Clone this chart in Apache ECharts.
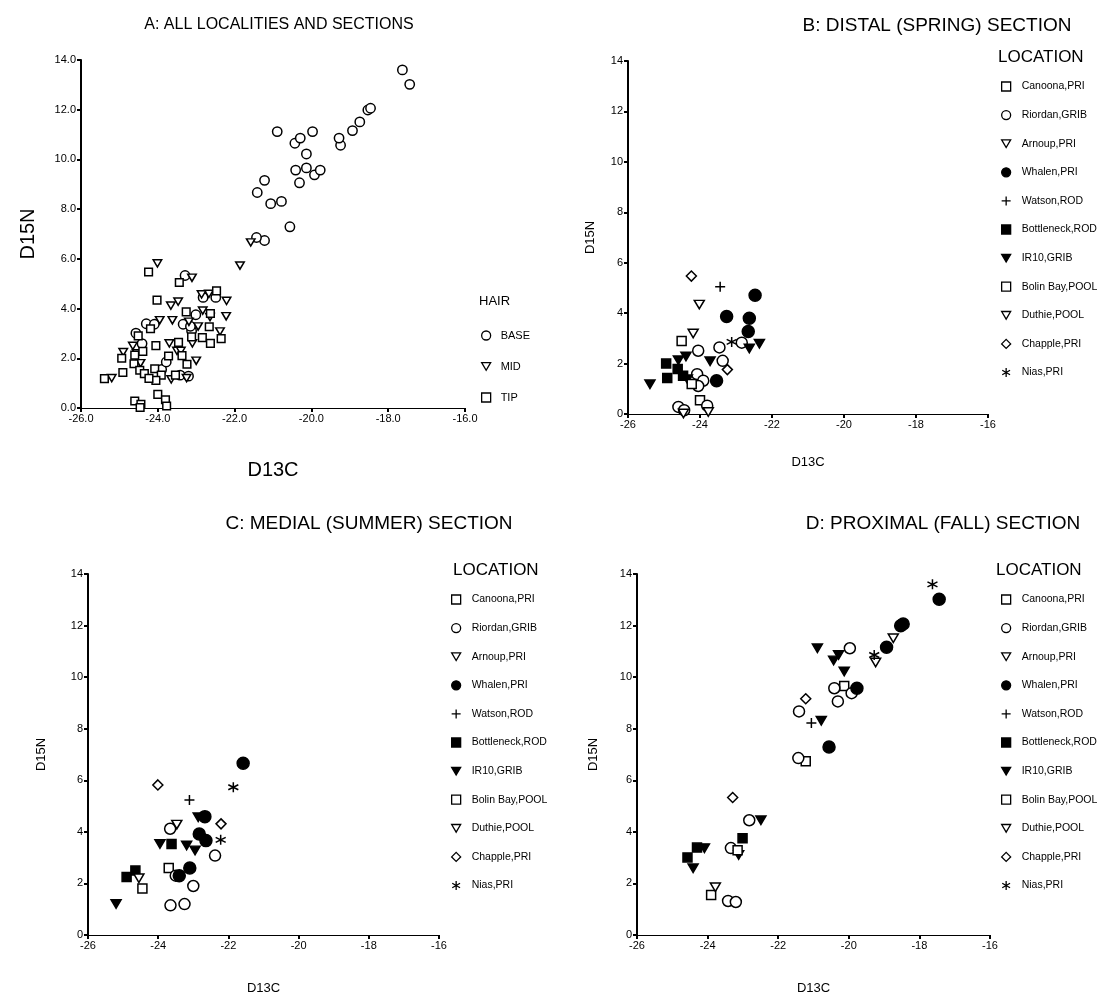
<!DOCTYPE html>
<html><head><meta charset="utf-8">
<script src="https://cdn.jsdelivr.net/npm/echarts/dist/echarts.min.js"></script>
<style>html,body{margin:0;padding:0;background:#fff}#c{width:1112px;height:996px}</style>
</head><body><div id="c"></div>
<script>
const locations = ['Canoona,PRI','Riordan,GRIB','Arnoup,PRI','Whalen,PRI','Watson,ROD','Bottleneck,ROD','IR10,GRIB','Bolin Bay,POOL','Duthie,POOL','Chapple,PRI','Nias,PRI'];
const locationSymbols = ['square','circle','tri','dot','plus','fsquare','ftri','square','tri','diamond','star'];
const hairGroups = ['BASE','MID','TIP'];
const hairSymbols = ['circle','tri','square'];
const panelTitles = ['A: ALL LOCALITIES AND SECTIONS','B: DISTAL (SPRING) SECTION','C: MEDIAL (SUMMER) SECTION','D: PROXIMAL (FALL) SECTION'];

// [D13C, D15N] per location (order of `locations`)
const distal = [
  [[-24.51,2.90],[-24.00,0.55]],
  [[-24.05,2.51],[-23.46,2.64],[-22.84,2.83],[-23.37,2.11],[-24.08,1.58],[-23.91,1.32],[-24.05,1.11],[-23.80,0.33],[-24.60,0.28],[-24.44,0.15]],
  [[-24.02,4.34],[-24.19,3.19]],
  [[-22.47,4.71],[-23.26,3.87],[-22.63,3.80],[-22.66,3.27],[-23.54,1.32]],
  [[-23.44,5.05]],
  [[-24.94,2.00],[-24.91,1.43],[-24.62,1.78],[-24.47,1.52]],
  [[-25.39,1.18],[-24.60,2.13],[-24.39,2.28],[-23.72,2.09],[-22.35,2.79],[-22.63,2.60],[-24.35,1.38]],
  [[-24.23,1.19]],
  [[-24.46,0.02],[-23.77,0.08]],
  [[-24.24,5.47],[-23.24,1.76]],
  [[-23.12,2.86]]
];
const medial = [
  [[-23.70,2.60]],
  [[-23.66,4.12],[-22.38,3.08],[-23.65,1.15],[-23.25,1.20],[-23.00,1.90],[-23.50,2.30]],
  [[-23.47,4.28]],
  [[-21.58,6.66],[-22.67,4.59],[-22.83,3.92],[-22.64,3.66],[-23.40,2.30],[-23.10,2.60]],
  [[-23.11,5.24]],
  [[-23.62,3.53],[-24.90,2.25],[-24.65,2.50]],
  [[-22.86,4.57],[-23.95,3.53],[-23.19,3.47],[-22.95,3.28],[-25.20,1.20]],
  [[-24.45,1.80]],
  [[-24.55,2.20]],
  [[-24.01,5.82],[-22.21,4.31]],
  [[-21.86,5.73],[-22.22,3.69]]
];
const proximal = [
  [[-20.13,9.66],[-21.22,6.74]],
  [[-19.97,11.12],[-20.41,9.57],[-19.92,9.38],[-20.31,9.06],[-21.41,8.67],[-21.43,6.86],[-22.82,4.45],[-23.34,3.37],[-23.42,1.32],[-23.20,1.28]],
  [[-18.74,11.51],[-19.24,10.57]],
  [[-17.44,13.02],[-18.53,11.99],[-18.46,12.06],[-18.93,11.16],[-19.77,9.57],[-20.56,7.29]],
  [[-21.06,8.22]],
  [[-23.01,3.75],[-24.30,3.39],[-24.57,3.01]],
  [[-20.89,11.12],[-20.43,10.65],[-20.29,10.86],[-20.13,10.22],[-20.78,8.31],[-22.49,4.45],[-23.12,3.10],[-24.09,3.37],[-24.41,2.59]],
  [[-23.15,3.29],[-23.90,1.55]],
  [[-23.78,1.85]],
  [[-21.22,9.16],[-23.29,5.33]],
  [[-17.63,13.60],[-19.28,10.86]]
];

const FONT = 'Liberation Sans, Arial, sans-serif';
const TRI = 'path://M0,0L10,0L5,8.5Z';
const SYMS = {
  square:{symbol:'rect', size:[9,9], fill:'#fff'},
  circle:{symbol:'circle', size:[11,11], fill:'#fff'},
  tri:{symbol:TRI, size:[10,8.5], fill:'#fff'},
  dot:{symbol:'circle', size:[12,12], fill:'#000'},
  plus:{symbol:'path://M5,0L5,10M0,5L10,5', size:[10,10], fill:'rgba(0,0,0,0)'},
  fsquare:{symbol:'rect', size:[9,9], fill:'#000'},
  ftri:{symbol:TRI, size:[10,8.5], fill:'#000'},
  diamond:{symbol:'diamond', size:[10,10], fill:'#fff'},
  star:{symbol:'path://M5,0L5,10M0.67,2.5L9.33,7.5M0.67,7.5L9.33,2.5', size:[10,10], fill:'rgba(0,0,0,0)'}
};
function sym(kind, s){
  s = s || 1;
  const b = SYMS[kind];
  return {symbol:b.symbol, symbolSize:[b.size[0]*s, b.size[1]*s],
    itemStyle:{color:b.fill, borderColor:'#000', borderWidth:1.5, opacity:1}};
}

const grids = [
  {left:81, top:60, width:384, height:348},
  {left:628, top:61, width:360, height:353},
  {left:88, top:574, width:351, height:361},
  {left:637, top:574, width:353, height:361}
];
const nameCfg = [
  {xGap:52, yGap:43, size:20},
  {xGap:42, yGap:31, size:13},
  {xGap:47, yGap:40, size:13},
  {xGap:47, yGap:37, size:13}
];

const xAxes = grids.map((g,i)=>({type:'value', gridIndex:i, min:-26, max:-16, interval:2,
  axisLine:{onZero:false, lineStyle:{color:'#000', width:1.2}},
  axisTick:{length:4, lineStyle:{color:'#000', width:2}},
  axisLabel:{color:'#000', fontSize:11, fontFamily:FONT, margin:5, formatter:v=> i===0 ? v.toFixed(1) : String(v)},
  splitLine:{show:false},
  name:'D13C', nameLocation:'middle', nameGap:nameCfg[i].xGap,
  nameTextStyle:{color:'#000', fontSize:nameCfg[i].size, fontFamily:FONT}}));
const yAxes = grids.map((g,i)=>({type:'value', gridIndex:i, min:0, max:14, interval:2,
  axisLine:{onZero:false, lineStyle:{color:'#000', width:2}},
  axisTick:{length:4, lineStyle:{color:'#000', width:2}},
  axisLabel:{color:'#000', fontSize:11, fontFamily:FONT, margin:5, formatter:v=> i===0 ? v.toFixed(1) : String(v)},
  splitLine:{show:false},
  name:'D15N', nameLocation:'middle', nameGap:nameCfg[i].yGap,
  nameTextStyle:{color:'#000', fontSize:nameCfg[i].size, fontFamily:FONT}}));

const series = [];
[[distal,1],[medial,2],[proximal,3]].forEach(([arr,gi])=>{
  arr.forEach((pts,li)=>{
    series.push(Object.assign({type:'scatter', name:locations[li], xAxisIndex:gi, yAxisIndex:gi,
      data:pts, emphasis:{disabled:true}}, sym(locationSymbols[li])));
  });
});
const hairSources = [proximal, medial, distal];
hairGroups.forEach((h,i)=>{
  series.push(Object.assign({type:'scatter', name:h, xAxisIndex:0, yAxisIndex:0,
    data:hairSources[i].flat(), emphasis:{disabled:true}}, sym(hairSymbols[i], 0.85)));
});

const titleA = {color:'#000', fontSize:16, fontWeight:'normal', fontFamily:FONT};
const titleStyle = {color:'#000', fontSize:19, fontWeight:'normal', fontFamily:FONT};
const subStyle = {color:'#000', fontSize:17, fontWeight:'normal', fontFamily:FONT};
const titles = [
  {text:panelTitles[0], left:274, top:12, textAlign:'center', textStyle:titleA},
  {text:panelTitles[1], left:932, top:11, textAlign:'center', textStyle:titleStyle},
  {text:panelTitles[2], left:364, top:509, textAlign:'center', textStyle:titleStyle},
  {text:panelTitles[3], left:938, top:509, textAlign:'center', textStyle:titleStyle},
  {text:'HAIR', left:474, top:290, textStyle:{color:'#000', fontSize:13, fontWeight:'normal', fontFamily:FONT}},
  {text:'LOCATION', left:993, top:44, textStyle:subStyle},
  {text:'LOCATION', left:448, top:557, textStyle:subStyle},
  {text:'LOCATION', left:991, top:557, textStyle:subStyle}
];
function legItems(names, kinds){
  return names.map((n,i)=>{
    const b = SYMS[kinds[i]];
    return {name:n, icon:b.symbol, itemStyle:{color:b.fill, borderColor:'#000', borderWidth:1.3}};
  });
}
const legText = {color:'#000', fontSize:10.5, fontFamily:FONT, padding:[0,0,0,6]};
const legBase = {orient:'vertical', itemWidth:9, itemHeight:9, itemGap:17.6, selectedMode:false, textStyle:legText, padding:0};
const legends = [
  Object.assign({}, legBase, {data:legItems(hairGroups, hairSymbols), left:481, top:330, itemGap:20,
    textStyle:{color:'#000', fontSize:11, fontFamily:FONT, padding:[0,0,0,5]}}),
  Object.assign({}, legBase, {data:legItems(locations, locationSymbols), left:1001, top:81}),
  Object.assign({}, legBase, {data:legItems(locations, locationSymbols), left:451, top:594}),
  Object.assign({}, legBase, {data:legItems(locations, locationSymbols), left:1001, top:594})
];

const chart = echarts.init(document.getElementById('c'));
chart.setOption({animation:false, backgroundColor:'#fff', title:titles, legend:legends,
  grid:grids, xAxis:xAxes, yAxis:yAxes, series:series});
</script></body></html>
